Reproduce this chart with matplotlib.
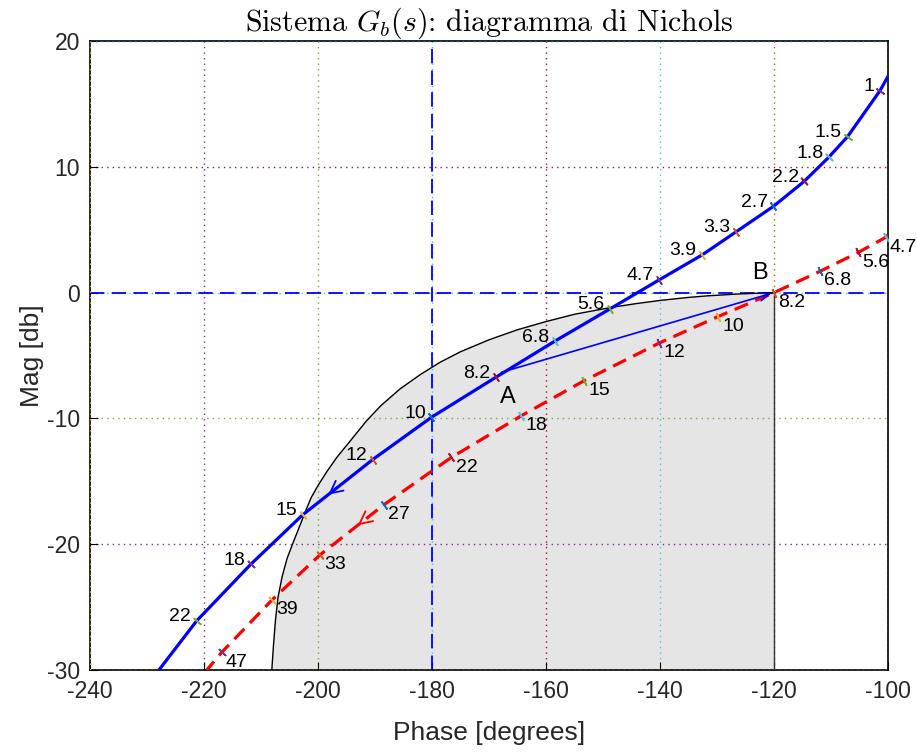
import numpy as np
import matplotlib
matplotlib.use('Agg')
import matplotlib.pyplot as plt

# G_b(s) locus (blue, solid): points, phase [deg] / mag [dB]
blue_phase = [-100.0, -101.4, -107.1, -110.4, -114.7, -120.1, -126.6, -132.6, -140.2,
              -148.8, -158.5, -168.8, -180.1, -190.4, -202.7, -211.8, -221.3, -227.9]
blue_mag = [17.2, 16.06, 12.4, 10.76, 8.85, 6.86, 4.85, 3.0, 1.0,
            -1.3, -3.87, -6.73, -9.91, -13.27, -17.67, -21.6, -26.1, -30.0]
# frequency labels on the blue locus (first and last entries are the curve ends)
blue_freqs = ['', '1', '1.5', '1.8', '2.2', '2.7', '3.3', '3.9', '4.7',
              '5.6', '6.8', '8.2', '10', '12', '15', '18', '22', '']

# compensated locus (red, dashed)
red_phase = [-100.0, -100.4, -105.2, -111.9, -120.0, -129.8, -140.1, -153.3,
             -164.3, -176.6, -188.4, -199.65, -208.0, -216.9, -219.5]
red_mag = [4.6, 4.4, 3.2, 1.7, 0.0, -1.9, -4.0, -7.0,
           -9.78, -13.1, -16.85, -20.85, -24.4, -28.6, -30.0]
red_freqs = ['', '4.7', '5.6', '6.8', '8.2', '10', '12', '15',
             '18', '22', '27', '33', '39', '47', '']

# boundary of the shaded region
bound_phase = [-208.1, -207.8, -207.45, -207.0, -206.3, -205.4, -204.3, -203.2, -202.3,
               -201.2, -199.95, -198.4, -196.7, -194.0, -191.5, -189.0, -185.6, -182.0,
               -178.6, -175.0, -170.0, -165.0, -160.0, -155.0, -148.5, -144.0, -140.0,
               -135.0, -131.8, -126.0, -120.0]
bound_mag = [-30.0, -28.0, -26.0, -24.2, -22.6, -21.1, -19.8, -18.55, -17.5,
             -16.3, -15.3, -14.2, -13.1, -11.6, -10.2, -9.0, -7.65, -6.5,
             -5.54, -4.7, -3.75, -2.95, -2.3, -1.72, -1.17, -0.86, -0.62,
             -0.38, -0.26, -0.1, 0.0]

point_A = (-167.8, -6.33)
point_B = (-120.0, 0.0)

mb = (0, 0.447, 0.741)
mo = (0.85, 0.325, 0.098)
my = (0.929, 0.694, 0.125)
mp = (0.494, 0.184, 0.556)
mg = (0.466, 0.674, 0.188)
mc = (0.301, 0.745, 0.933)
mr = (0.635, 0.078, 0.184)
cycle = [mb, mo, my, mp, mg, mc, mr]

plt.rcParams['font.family'] = ['Liberation Sans', 'DejaVu Sans']
plt.rcParams['mathtext.fontset'] = 'cm'
plt.rcParams['axes.unicode_minus'] = False


def draw_grid(ax):
    vlines = [(-220, mp), (-200, mg), (-180, mc), (-160, mr), (-140, mc), (-120, mo)]
    hlines = [(10, mr), (0, mc), (-10, mg), (-20, mp)]
    for x, c in vlines:
        ax.axvline(x, color=c, lw=1.0, ls=(0, (1, 3)), zorder=1)
    for y, c in hlines:
        ax.axhline(y, color=c, lw=1.0, ls=(0, (1, 3)), zorder=1)
    # colored dots over the frame
    ax.axvline(-240, color=my, lw=1.0, ls=(0, (1, 3)), zorder=6)
    ax.axvline(-100, color=mo, lw=1.0, ls=(0, (1, 3)), zorder=6)
    ax.axhline(20, color=mb, lw=1.0, ls=(0, (1, 3)), zorder=6)
    ax.axhline(-30, color=my, lw=1.0, ls=(0, (1, 3)), zorder=6)
    # -180 deg / 0 dB cross
    ax.axvline(-180, color='blue', lw=1.3, ls=(0, (8, 4)), zorder=2)
    ax.axhline(0, color='blue', lw=1.3, ls=(0, (8, 4)), zorder=2)


def tick_marks(ax, phase, mag, labels, start, side):
    pts = ax.transData.transform(np.column_stack([phase, mag]))
    d = np.gradient(pts, axis=0)
    ang = np.degrees(np.arctan2(d[:, 1], d[:, 0]))
    k = 0
    for i, lab in enumerate(labels):
        if not lab:
            continue
        col = cycle[(start + k) % len(cycle)]
        k += 1
        ax.plot(phase[i], mag[i], marker=(2, 2, ang[i]), ms=7, mew=1.2,
                color=col, ls='none', zorder=5)
        if side == 'left':
            ax.annotate(lab, (phase[i], mag[i]), xytext=(-4, 3), textcoords='offset points',
                        ha='right', va='center', fontsize=14, zorder=7)
        else:
            ax.annotate(lab, (phase[i], mag[i]), xytext=(3, -7), textcoords='offset points',
                        ha='left', va='center', fontsize=14, zorder=7)


def curve_arrow(ax, phase, mag, at, color):
    xs = np.array(phase)[::-1]
    ys = np.array(mag)[::-1]
    y0 = np.interp(at, xs, ys)
    y1 = np.interp(at + 0.4, xs, ys)
    ax.annotate('', xy=(at, y0), xytext=(at + 0.4, y1),
                arrowprops=dict(arrowstyle='->,head_length=0.9,head_width=0.45',
                                color=color, lw=1.3, shrinkA=0, shrinkB=0), zorder=6)


if __name__ == '__main__':
    fig = plt.figure(figsize=(9.17, 7.53), dpi=100)
    ax = fig.add_axes([0.0981, 0.1102, 0.8703, 0.8353])
    ax.set_xlim(-240, -100)
    ax.set_ylim(-30, 20)

    fill_x = bound_phase + [bound_phase[-1], bound_phase[0]]
    fill_y = bound_mag + [-30, -30]
    ax.fill(fill_x, fill_y, color=(0.898, 0.898, 0.898), lw=0, zorder=0)
    draw_grid(ax)
    ax.plot(bound_phase, bound_mag, color='black', lw=1.0, zorder=3)
    ax.plot([bound_phase[-1], bound_phase[-1]], [bound_mag[-1], -30], color=(0.2, 0.2, 0.2),
            lw=1.0, zorder=3)

    ax.plot(blue_phase, blue_mag, color='blue', lw=2.3, zorder=4)
    ax.plot(red_phase, red_mag, color='red', lw=2.3, ls=(0, (4.5, 2.5)), zorder=4)

    tick_marks(ax, blue_phase, blue_mag, blue_freqs, 3, 'left')
    tick_marks(ax, red_phase, red_mag, red_freqs, 5, 'right')

    curve_arrow(ax, blue_phase, blue_mag, -198.2, 'blue')
    curve_arrow(ax, red_phase, red_mag, -193.0, 'red')

    ax.annotate('', xy=point_B, xytext=point_A,
                arrowprops=dict(arrowstyle='->,head_length=0.7,head_width=0.3',
                                color='blue', lw=1.2, shrinkA=0, shrinkB=2), zorder=6)
    ax.text(point_A[0] + 1.1, point_A[1] - 2.0, 'A', fontsize=17, ha='center', va='center')
    ax.text(point_B[0] - 2.4, point_B[1] + 1.6, 'B', fontsize=17, ha='center', va='center')

    for s in ax.spines.values():
        s.set_color('black')
        s.set_linewidth(1.2)
    ax.set_xticks(np.arange(-240, -99, 20))
    ax.set_yticks(np.arange(-30, 21, 10))
    ax.tick_params(direction='in', length=6, labelsize=16.5, labelcolor='#262626', pad=7)
    ax.set_xlabel('Phase [degrees]', fontsize=19, color='#262626', labelpad=13)
    ax.set_ylabel('Mag [db]', fontsize=19, color='#262626', labelpad=2)
    ax.set_title(r'Sistema $G_b(s)$: diagramma di Nichols', fontfamily='cmr10',
                 fontsize=21.5, pad=4)

    fig.savefig('out.png', dpi=100)
